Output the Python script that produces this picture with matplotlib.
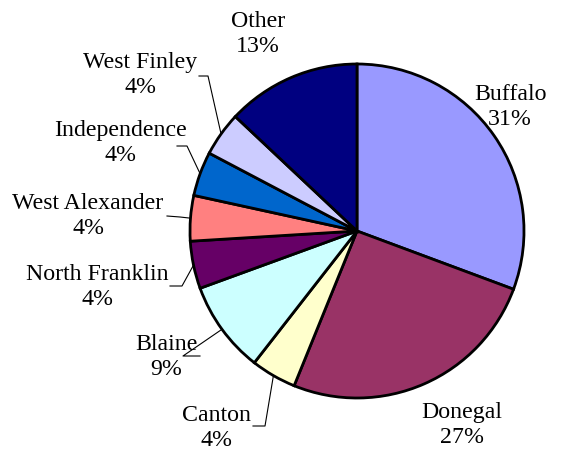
import numpy as np
import matplotlib.pyplot as plt

# slice data, clockwise from 12 o'clock
towns = ["Buffalo", "Donegal", "Canton", "Blaine", "North Franklin",
         "West Alexander", "Independence", "West Finley", "Other"]
shares = [30.7, 25.5, 4.4, 8.9, 4.6, 4.4, 4.3, 4.3, 13.0]
pct_labels = ["31%", "27%", "4%", "9%", "4%", "4%", "4%", "4%", "13%"]
colors = ["#9999FF", "#993366", "#FFFFCC", "#CCFFFF", "#660066",
          "#FF8080", "#0066CC", "#CCCCFF", "#000080"]

W, H = 571, 452
cx, cy, r = 357, H - 232, 167

# label block centres (pixels, from top-left) and whether a leader line is drawn
label_pos = {
    "Buffalo": (510, 107, False),
    "Donegal": (462, 425, False),
    "Canton": (216, 428, True),
    "Blaine": (166, 357, True),
    "North Franklin": (97, 287, True),
    "West Alexander": (88, 216, True),
    "Independence": (120, 143, True),
    "West Finley": (140, 75, True),
    "Other": (258, 34, False),
}
# leader line elbows (start at label side, elbow, then to the pie edge)
leaders = {
    "Canton": [(253, 427), (265, 427)],
    "Blaine": [(200, 357), (183, 357)],
    "North Franklin": [(170, 287), (182, 287)],
    "West Alexander": [(167, 217), (180, 218)],
    "Independence": [(177, 147), (187, 147)],
    "West Finley": [(199, 77), (208, 77)],
}

plt.rcParams["font.family"] = ["Liberation Serif", "DejaVu Serif"]

fig = plt.figure(figsize=(W / 100, H / 100), dpi=100)
ax = fig.add_axes([0, 0, 1, 1])

wedges, _ = ax.pie(shares, colors=colors, startangle=90, counterclock=False,
                   center=(cx, cy), radius=r, frame=True,
                   wedgeprops=dict(edgecolor="black", linewidth=2.0))
ax.set_xlim(0, W)
ax.set_ylim(0, H)
ax.set_aspect("equal")
ax.axis("off")

for w, name, pct in zip(wedges, towns, pct_labels):
    x, y, has_line = label_pos[name]
    ax.text(x, H - y, name + "\n" + pct, ha="center", va="center",
            fontsize=17.2, linespacing=1.2, multialignment="center")
    if has_line:
        mid = np.deg2rad((w.theta1 + w.theta2) / 2)
        ex, ey = cx + r * np.cos(mid), cy + r * np.sin(mid)
        pts = leaders[name]
        xs = [p[0] for p in pts] + [ex]
        ys = [H - p[1] for p in pts] + [ey]
        ax.plot(xs, ys, color="black", linewidth=0.8)

fig.savefig("out.png", dpi=100)
